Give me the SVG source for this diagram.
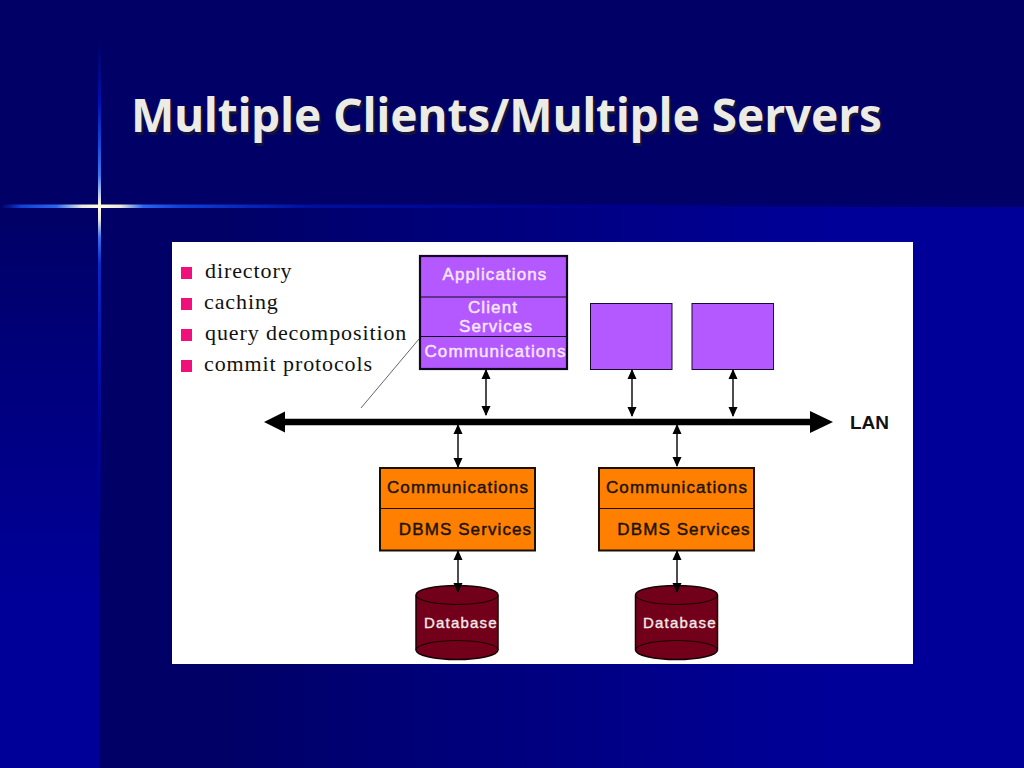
<svg xmlns="http://www.w3.org/2000/svg" width="1024" height="768" viewBox="0 0 1024 768">
<defs>
<linearGradient id="main" gradientUnits="userSpaceOnUse" x1="100" y1="0" x2="1024" y2="0"><stop offset="0" stop-color="#000066"/><stop offset="0.12" stop-color="#000066"/><stop offset="0.8" stop-color="#000099"/><stop offset="1" stop-color="#000099"/></linearGradient>
<linearGradient id="left" gradientUnits="userSpaceOnUse" x1="0" y1="207" x2="0" y2="768"><stop offset="0" stop-color="#000066"/><stop offset="0.7" stop-color="#000099"/><stop offset="1" stop-color="#000099"/></linearGradient>
<linearGradient id="h" gradientUnits="userSpaceOnUse" x1="0" y1="0" x2="1024" y2="0"><stop offset="0" stop-color="#0a2ac0" stop-opacity="0"/><stop offset="0.02" stop-color="#1040d0"/><stop offset="0.055" stop-color="#2a66ee"/><stop offset="0.08" stop-color="#e8e8dc"/><stop offset="0.097" stop-color="#fffde0"/><stop offset="0.118" stop-color="#e8e8dc"/><stop offset="0.14" stop-color="#2a66ee"/><stop offset="0.175" stop-color="#1040d8"/><stop offset="0.3" stop-color="#00109c"/><stop offset="0.6" stop-color="#00009c" stop-opacity="0.6"/><stop offset="1" stop-color="#000099" stop-opacity="0"/></linearGradient>
<linearGradient id="v" gradientUnits="userSpaceOnUse" x1="0" y1="40" x2="0" y2="560"><stop offset="0" stop-color="#0010a0" stop-opacity="0"/><stop offset="0.12" stop-color="#0010b0"/><stop offset="0.2" stop-color="#1448d8"/><stop offset="0.26" stop-color="#3a78f0"/><stop offset="0.31" stop-color="#e8e8f0"/><stop offset="0.321" stop-color="#fffde0"/><stop offset="0.345" stop-color="#e8e8e0"/><stop offset="0.38" stop-color="#3a70ee"/><stop offset="0.43" stop-color="#0a2ac4"/><stop offset="0.6" stop-color="#0010b0"/><stop offset="1" stop-color="#000099" stop-opacity="0"/></linearGradient>
<marker id="ah" markerUnits="userSpaceOnUse" markerWidth="10" markerHeight="10" refX="9" refY="5" orient="auto-start-reverse"><path d="M0,0.5 L10,5 L0,9.5 Z" fill="#000"/></marker>
</defs>
<style>
.s{font-family:"Liberation Sans",Arial,sans-serif}
.lbl{font-size:17px;letter-spacing:1.1px;text-anchor:middle;stroke-width:.45px}
.w{fill:#f6e6ff;stroke:#f6e6ff}
.k{fill:#1c1408;stroke:#1c1408}
.d{fill:#f4e8ea;stroke:#f4e8ea;stroke-width:.35px;font-size:15px;letter-spacing:1.2px}
.t{font-family:"Liberation Serif","Times New Roman",serif;font-size:22px;letter-spacing:.9px;fill:#111}
.bul{fill:#f0107c}
.p{fill:#b459ff;stroke:#1a0a30}
.o{fill:#ff8000;stroke:#1a1000;stroke-width:2}
.c{fill:#73001a;stroke:#1a0006;stroke-width:1.5}
.ln{stroke:#000;stroke-width:1.4;fill:none;marker-start:url(#ah);marker-end:url(#ah)}
</style>
<g id="background">
<rect width="1024" height="768" fill="url(#main)"/>
<rect width="1024" height="207" fill="#000066"/>
<rect x="0" y="207" width="99" height="561" fill="url(#left)"/>
<rect x="0" y="204.500" width="1024" height="3.500" fill="url(#h)"/>
<rect x="98" y="40" width="3" height="520" fill="url(#v)"/>
</g>
<text id="title" x="131" y="132" font-family="'Noto Sans','Open Sans',sans-serif" font-weight="700" font-size="47" fill="#ecebe6" textLength="751" lengthAdjust="spacingAndGlyphs" style="text-shadow:2px 3px 1px #16163a">Multiple Clients/Multiple Servers</text>
<rect id="panel" x="172" y="242" width="741" height="422" fill="#fff"/>
<g id="feature-list">
<rect class="bul" x="181" y="267" width="11" height="12"/><text class="t" x="205" y="278">directory</text>
<rect class="bul" x="181" y="298" width="11" height="12"/><text class="t" x="204" y="309">caching</text>
<rect class="bul" x="181" y="329" width="11" height="12"/><text class="t" x="205" y="340">query decomposition</text>
<rect class="bul" x="181" y="360" width="11" height="12"/><text class="t" x="204" y="371">commit protocols</text>
</g>
<text id="lan" class="s" x="850" y="429" font-size="19" font-weight="700" fill="#111">LAN</text>
<g id="client-1">
<rect x="420" y="256" width="147" height="113" fill="#b459ff" stroke="#10081e" stroke-width="2.2"/>
<path d="M420,297 H567 M420,336.500 H567" stroke="#10081e" stroke-width="1.2"/>
<text class="s lbl w" x="495" y="280">Applications</text>
<text class="s lbl w" x="493" y="313">Client</text>
<text class="s lbl w" x="496" y="332">Services</text>
<text class="s lbl w" x="495.500" y="357">Communications</text>
</g>
<g id="client-2"><rect class="p" x="590.500" y="303.500" width="81.500" height="66"/></g>
<g id="client-3"><rect class="p" x="692" y="303.500" width="81.500" height="66"/></g>
<g id="server-1">
<rect class="o" x="380" y="468" width="155" height="82.500"/>
<line x1="380" y1="508.500" x2="535" y2="508.500" stroke="#1a1000"/>
<text class="s lbl k" x="458" y="493">Communications</text>
<text class="s lbl k" x="465.500" y="535">DBMS Services</text>
</g>
<g id="server-2">
<rect class="o" x="599" y="468" width="155" height="82.500"/>
<line x1="599" y1="508.500" x2="754" y2="508.500" stroke="#1a1000"/>
<text class="s lbl k" x="677" y="493">Communications</text>
<text class="s lbl k" x="684" y="535">DBMS Services</text>
</g>
<g id="database-1">
<path class="c" d="M416,595 A41,9.500 0 0 1 498,595 V650 A41,9.500 0 0 1 416,650 Z"/>
<path d="M416,595 A41,9.500 0 0 0 498,595 M416,650 A41,9.500 0 0 1 498,650" fill="none" stroke="#1a0006" stroke-width="1.200"/>
<text class="s d" x="424" y="628">Database</text>
</g>
<g id="database-2">
<path class="c" d="M635.500,595 A41,9.500 0 0 1 717.500,595 V650 A41,9.500 0 0 1 635.500,650 Z"/>
<path d="M635.500,595 A41,9.500 0 0 0 717.500,595 M635.500,650 A41,9.500 0 0 1 717.500,650" fill="none" stroke="#1a0006" stroke-width="1.200"/>
<text class="s d" x="643" y="628">Database</text>
</g>
<g id="connectors">
<line x1="419" y1="339" x2="361" y2="408" stroke="#555" stroke-width="0.9"/>
<path d="M280,422 H818" stroke="#000" stroke-width="6.500" fill="none"/>
<path d="M264,422 L285,411.500 V432.500 Z M833,422 L810,411 V433 Z" fill="#000"/>
<line class="ln" x1="486" y1="370" x2="486" y2="415"/>
<line class="ln" x1="632" y1="370" x2="632" y2="416"/>
<line class="ln" x1="733" y1="370" x2="733" y2="416"/>
<line class="ln" x1="458" y1="425" x2="458" y2="467"/>
<line class="ln" x1="677" y1="425" x2="677" y2="466"/>
<line class="ln" x1="458" y1="551" x2="458" y2="592"/>
<line class="ln" x1="677" y1="551" x2="677" y2="592"/>
</g>
</svg>
